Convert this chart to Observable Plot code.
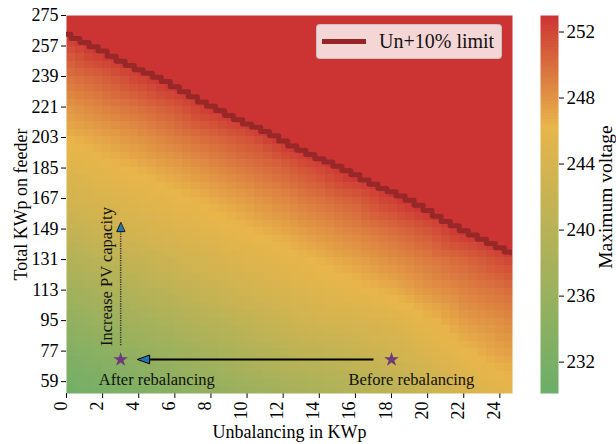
<!DOCTYPE html>
<html><head><meta charset="utf-8">
<script src="https://cdn.jsdelivr.net/npm/d3@7"></script>
<script src="https://cdn.jsdelivr.net/npm/@observablehq/plot@0.6"></script>
<style>
html,body{margin:0;padding:0;background:#fff;}
#wrap{position:relative;width:616px;height:444px;font-family:'Liberation Serif','DejaVu Serif',serif;overflow:hidden;}
#main{position:absolute;left:0;top:0;}
#cbar{position:absolute;left:520px;top:0;}
#legend{position:absolute;left:316px;top:24px;width:186px;height:35px;background:rgba(255,255,255,0.8);border:1px solid rgba(190,190,190,0.8);border-radius:4px;box-sizing:border-box;}
#legend .ln{position:absolute;left:5px;top:14px;width:44px;height:5px;background:#962424;}
#legend .tx{position:absolute;left:62px;top:4px;font-family:'Liberation Serif','DejaVu Serif',serif;font-size:20px;line-height:24px;color:#111;white-space:nowrap;}
svg text{font-family:'Liberation Serif','DejaVu Serif',serif;}
</style></head><body>
<div id="wrap"><div id="main"></div><div id="cbar"></div>
<div id="legend"><div class="ln"></div><div class="tx">Un+10% limit</div></div></div>
<script>
// ---- data ----
const xTicks = [0, 2, 4, 6, 8, 10, 12, 14, 16, 18, 20, 22, 24];
const yTicks = [59, 77, 95, 113, 131, 149, 167, 185, 203, 221, 239, 257, 275];
const cbTicks = [232, 236, 240, 244, 248, 252];

// sample grid of maximum voltage (rows = total kWp, columns = unbalancing kWp)
const gridX = [0, 2, 4, 6, 8, 10, 12, 14, 16, 18, 20, 22, 24, 24.7];
const gridY = [52, 59, 77, 95, 113, 131, 149, 167, 185, 203, 221, 239, 257, 275];
const volt52  = [231.0, 231.9, 232.9, 233.9, 235.1, 236.3, 237.5, 238.2, 239.3, 240.5, 242.2, 244.1, 245.3, 245.6];
const volt59  = [231.6, 232.6, 233.5, 234.7, 235.9, 237.1, 238.2, 239.0, 240.1, 241.3, 243.0, 244.7, 245.9, 246.2];
const volt77  = [233.2, 234.4, 235.6, 236.7, 237.9, 239.1, 240.4, 241.2, 242.1, 243.2, 244.6, 246.2, 247.3, 247.5];
const volt95  = [235.2, 236.4, 237.6, 238.8, 240.0, 241.3, 242.5, 243.6, 244.0, 244.8, 246.1, 247.6, 248.3, 248.7];
const volt113 = [237.2, 238.4, 239.7, 240.9, 242.2, 243.3, 244.3, 245.1, 245.9, 246.7, 247.9, 248.9, 249.8, 250.2];
const volt131 = [239.3, 240.6, 241.8, 243.0, 244.0, 244.9, 245.7, 246.5, 247.3, 248.3, 249.3, 250.4, 251.6, 252.3];
const volt149 = [241.5, 242.7, 243.8, 244.6, 245.5, 246.3, 247.1, 248.0, 249.0, 250.1, 251.3, 253.1, 254.3, 254.8];
const volt167 = [243.5, 244.4, 245.2, 246.0, 246.8, 247.7, 248.7, 249.8, 250.9, 252.5, 254.0, 255.2, 256.5, 256.9];
const volt185 = [245.0, 245.8, 246.6, 247.4, 248.4, 249.5, 250.6, 251.9, 253.6, 254.9, 256.1, 257.4, 258.6, 259.1];
const volt203 = [246.4, 247.2, 248.1, 249.2, 250.3, 251.4, 253.2, 254.5, 255.8, 257.0, 258.3, 259.5, 260.8, 261.2];
const volt221 = [247.8, 248.9, 249.9, 251.1, 252.8, 254.1, 255.4, 256.7, 257.9, 259.2, 260.4, 261.7, 263.0, 263.4];
const volt239 = [249.6, 250.8, 252.2, 253.8, 255.0, 256.3, 257.6, 258.8, 260.1, 261.3, 262.6, 263.9, 265.1, 265.5];
const volt257 = [251.6, 253.4, 254.7, 255.9, 257.2, 258.5, 259.7, 261.0, 262.2, 263.5, 264.8, 266.0, 267.3, 267.7];
const volt275 = [254.3, 255.6, 256.8, 258.1, 259.4, 260.6, 261.9, 263.1, 264.4, 265.7, 266.9, 268.2, 269.4, 269.9];
const voltRows = [volt52, volt59, volt77, volt95, volt113, volt131, volt149, volt167, volt185, volt203, volt221, volt239, volt257, volt275];

// Un+10% limit line
const limitX = [0, 0.5, 1, 1.5, 2, 2.5, 3, 3.5, 4, 4.5, 5, 5.5, 6, 6.5, 7, 7.5, 8, 8.5, 9, 9.5, 10, 10.5, 11, 11.5, 12, 12.5,
  13, 13.5, 14, 14.5, 15, 15.5, 16, 16.5, 17, 17.5, 18, 18.5, 19, 19.5, 20, 20.5, 21, 21.5, 22, 22.5, 23, 23.5, 24, 24.5, 24.7];
const limitY = [264, 261.5, 259, 256.5, 254, 251, 248, 245.5, 243, 241, 238.5, 236, 233, 230, 227, 224, 221.5, 219, 216, 213.5, 211, 209, 206.5, 204, 201, 198,
  195.5, 193, 190.5, 188.5, 186, 183.5, 181, 178, 175.5, 173, 171, 168.5, 166, 163, 160, 156.5, 153.5, 151, 148, 145.5, 143, 140.5, 138, 135.5, 135];

// scenario points
const scenarioX = [3, 18];
const scenarioY = [72, 72];
const scenarioLabels = ["After rebalancing", "Before rebalancing"];
const labelX = [5.0, 19.1];
const labelY = [60.2, 60.2];

// arrows
const moveArrow = {x1: 17, x2: 3.94, y: 72};
const pvArrow = {x: 3, y1: 80.5, y2: 152.8};
const pvText = {x: 2.2, y: 121, text: "Increase PV capacity"};
const cbLabel = {y: 242, text: "Maximum voltage"};

// ---- build ----
const cells = gridY.flatMap((y, i) => gridX.map((x, j) => ({x, y, v: voltRows[i][j]})));
const limit = limitX.map((x, i) => ({x, y: limitY[i]}));
const scenarios = scenarioX.map((x, i) => ({x, y: scenarioY[i], label: scenarioLabels[i], lx: labelX[i], ly: labelY[i]}));

const colorOpts = {type: "linear", domain: [230, 246.3, 253], range: ["#6aae6a", "#e8b54a", "#cc3333"], interpolate: "rgb", clamp: true};
const font = "'Liberation Serif', 'DejaVu Serif', serif";

const triHead = (len, half) => ({draw(ctx) { ctx.moveTo(0, -len); ctx.lineTo(-half, 0); ctx.lineTo(half, 0); ctx.closePath(); }});

const main = Plot.plot({
  width: 520, height: 444,
  marginLeft: 66, marginRight: 8, marginTop: 15, marginBottom: 51,
  style: {fontFamily: font, fontSize: "18px", background: "transparent", color: "#000"},
  x: {domain: [0, 24.7], ticks: xTicks, tickSize: 5, tickFormat: () => "", label: "Unbalancing in KWp", labelAnchor: "center", labelOffset: 44, labelArrow: "none"},
  y: {domain: [52, 275], ticks: yTicks, tickSize: 5, tickPadding: 3, label: "Total KWp on feeder", labelAnchor: "center", labelOffset: 52, labelArrow: "none"},
  color: colorOpts,
  marks: [
    Plot.raster(cells, {x: "x", y: "y", fill: "v", x1: 0, x2: 24.7, y1: 52, y2: 275, width: 50, height: 50, interpolate: "barycentric", imageRendering: "pixelated"}),
    Plot.line(limit, {x: "x", y: "y", curve: "step", stroke: "#982828", strokeWidth: 5, clip: "frame"}),
    Plot.link([moveArrow], {x1: "x1", x2: d => d.x2 + 0.6, y1: "y", y2: "y", stroke: "#000", strokeWidth: 2}),
    Plot.vector([moveArrow], {x: "x2", y: "y", length: 12, rotate: -90, anchor: "end", shape: triHead(12, 4.2), fill: "#1f77b4", stroke: "#000", strokeWidth: 1}),
    Plot.link([pvArrow], {x1: "x", x2: "x", y1: "y1", y2: d => d.y2 - 5, stroke: "#333", strokeWidth: 1.5, strokeDasharray: "1.2,1.2"}),
    Plot.vector([pvArrow], {x: "x", y: "y2", length: 9, rotate: 0, anchor: "end", shape: triHead(9, 4), fill: "#1f77b4", stroke: "#000", strokeWidth: 0.8}),
    Plot.dot(scenarios, {x: "x", y: "y", symbol: "star", r: 4.6, fill: "#6c3b7a", stroke: "none"}),
    Plot.text(scenarios, {x: "lx", y: "ly", text: "label", fontSize: 16.5, fill: "#111"}),
    Plot.text([pvText], {x: "x", y: "y", text: "text", rotate: -90, fontSize: 16.5, fill: "#111"}),
    Plot.text(xTicks, {x: d => d, text: d => String(d), frameAnchor: "bottom", dy: 8, rotate: -90, textAnchor: "end", fontSize: 18, fill: "#000"})
  ]
});
document.getElementById("main").appendChild(main);

const cbar = Plot.plot({
  width: 96, height: 444,
  marginLeft: 20, marginRight: 58, marginTop: 15, marginBottom: 51,
  style: {fontFamily: font, fontSize: "19px", background: "transparent", color: "#000"},
  x: {domain: [0, 1], axis: null},
  y: {domain: [230.1, 253], axis: "right", ticks: cbTicks, tickSize: 5, tickPadding: 3, label: null},
  color: colorOpts,
  marks: [
    Plot.raster({fill: (x, y) => y, x1: 0, x2: 1, y1: 230.1, y2: 253, width: 1, height: 120, imageRendering: "pixelated"}),
    Plot.text([cbLabel], {y: "y", text: "text", frameAnchor: "right", textAnchor: "middle", dx: 47, rotate: -90, fontSize: 19.5, fill: "#000"})
  ]
});
document.getElementById("cbar").appendChild(cbar);
</script>
</body></html>
